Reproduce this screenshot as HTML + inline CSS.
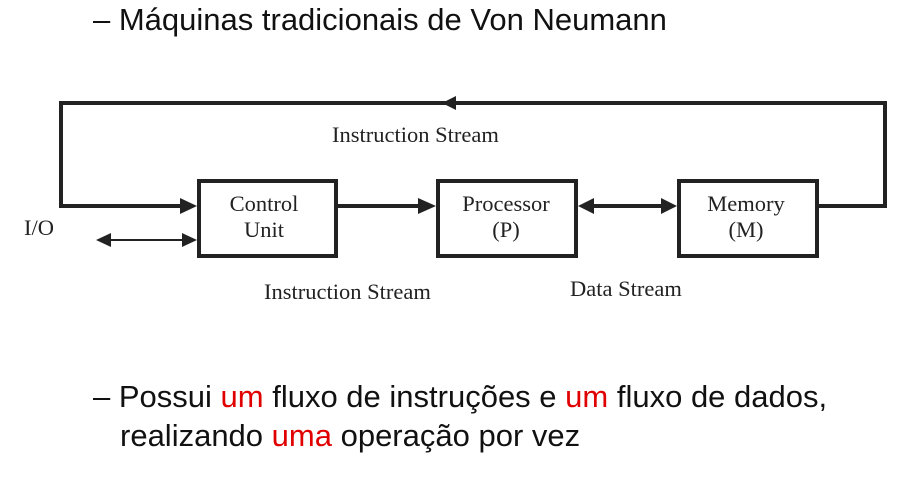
<!DOCTYPE html>
<html><head><style>
body{margin:0;width:907px;height:490px;background:#fff;overflow:hidden;position:relative}
.t{position:absolute;font-family:"Liberation Sans",sans-serif;font-size:31px;color:#111;white-space:nowrap;line-height:36px}
.r{color:#e00000}
svg{position:absolute;left:0;top:0}
svg text{font-family:"Liberation Serif",serif;font-size:22.5px;fill:#222}
</style></head><body>
<div class="t" style="left:93px;top:2px">– Máquinas tradicionais de Von Neumann</div>
<svg width="907" height="490">
<g stroke="#222" fill="none">
<polyline points="61,103 885,103 885,206 817,206" stroke-width="4"/>
<polyline points="61,101 61,206 182,206" stroke-width="4"/>
<line x1="336" y1="206" x2="420" y2="206" stroke-width="4"/>
<line x1="590" y1="206" x2="665" y2="206" stroke-width="4"/>
<line x1="110" y1="240" x2="185" y2="240" stroke-width="2"/>
<rect x="199" y="181" width="137" height="75" stroke-width="4"/>
<rect x="438" y="181" width="138" height="75" stroke-width="4"/>
<rect x="679" y="181" width="138" height="75" stroke-width="4"/>
</g>
<g fill="#222">
<polygon points="442,103 456,96 456,110"/>
<polygon points="197,206 180,198 180,214"/>
<polygon points="436,206 418,198 418,214"/>
<polygon points="578,206 594,198 594,214"/>
<polygon points="677,206 661,198 661,214"/>
<polygon points="197,240 182,233 182,247"/>
<polygon points="96,240 111,233 111,247"/>
</g>
<text x="332" y="142">Instruction Stream</text>
<text x="24" y="235">I/O</text>
<text x="264" y="299">Instruction Stream</text>
<text x="570" y="296">Data Stream</text>
<text x="264" y="211" text-anchor="middle">Control</text>
<text x="264" y="237" text-anchor="middle">Unit</text>
<text x="506" y="211" text-anchor="middle">Processor</text>
<text x="506" y="237" text-anchor="middle">(P)</text>
<text x="746" y="211" text-anchor="middle">Memory</text>
<text x="746" y="237" text-anchor="middle">(M)</text>
</svg>
<div class="t" style="left:93px;top:379px">– Possui <span class="r">um</span> fluxo de instruções e <span class="r">um</span> fluxo de dados,</div>
<div class="t" style="left:120px;top:418px">realizando <span class="r">uma</span> operação por vez</div>
</body></html>
